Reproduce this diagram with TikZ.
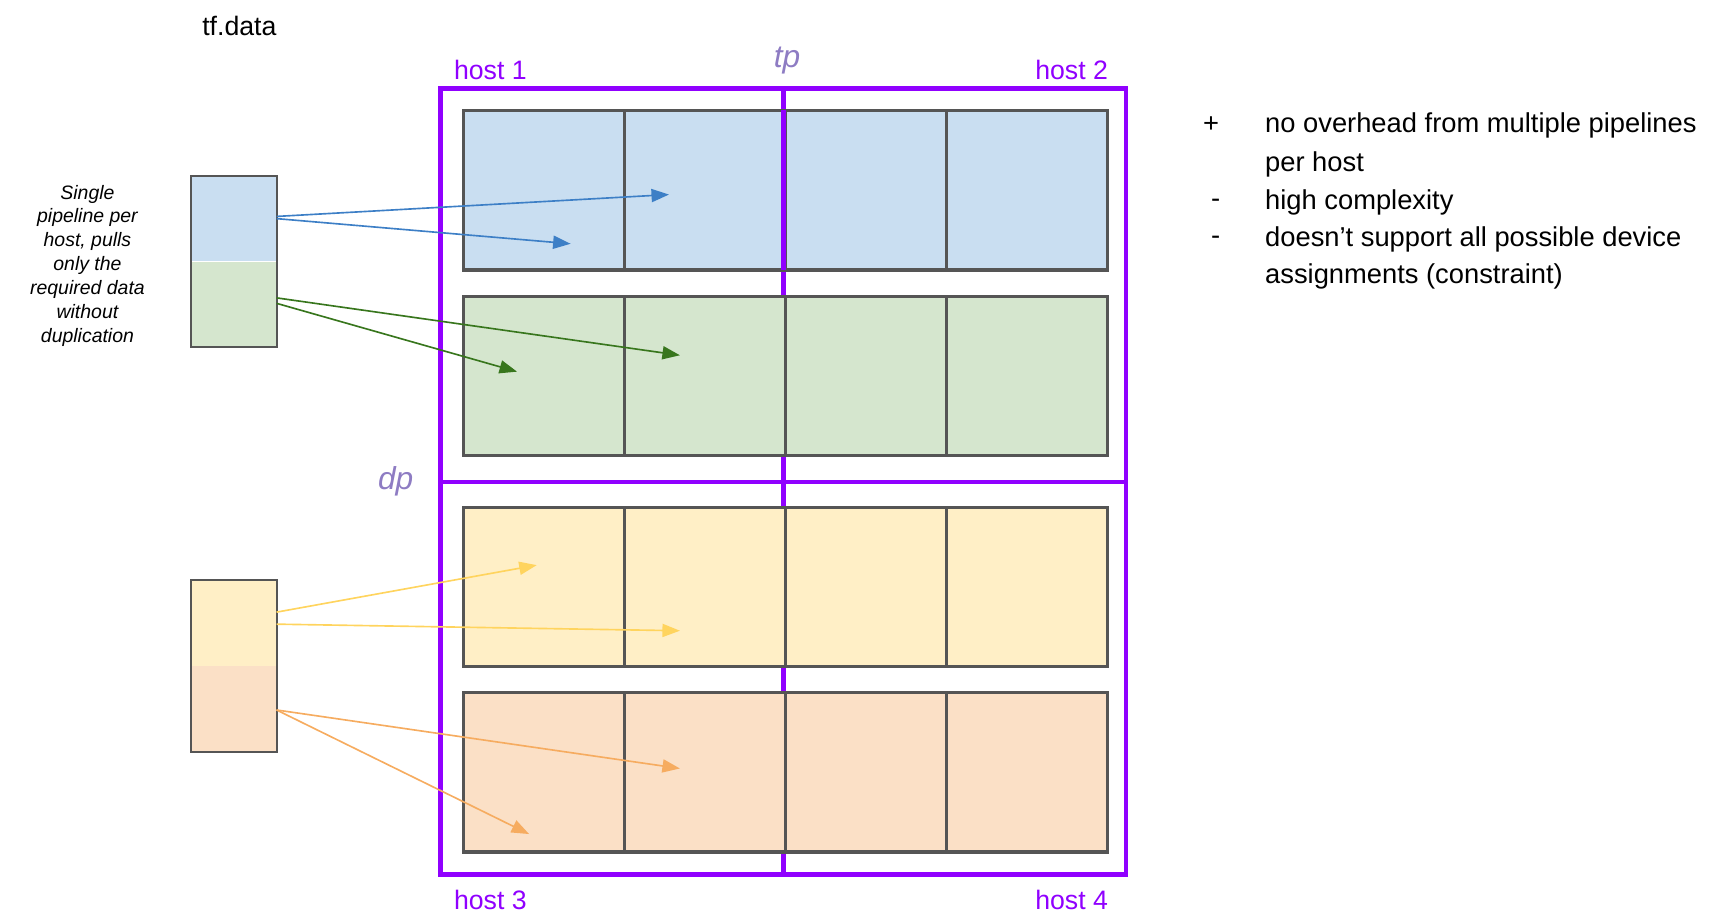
\documentclass[tikz,border=0pt]{standalone}
\usepackage{fontspec}
\setmainfont{Liberation Sans}
\usetikzlibrary{arrows.meta}
\definecolor{cblue}{HTML}{C9DEF1}
\definecolor{cgreen}{HTML}{D5E6CE}
\definecolor{cyellow}{HTML}{FFEFC6}
\definecolor{corange}{HTML}{FBE0C6}
\definecolor{cgrey}{HTML}{555555}
\definecolor{cpurple}{HTML}{9000FF}
\definecolor{clav}{HTML}{8E7CC3}
\definecolor{ablue}{HTML}{3D7FC6}
\definecolor{agreen}{HTML}{38761D}
\definecolor{ayellow}{HTML}{FFD45E}
\definecolor{aorange}{HTML}{F6AC60}
\begin{document}
\begin{tikzpicture}[x=0.5pt,y=-0.5pt,
  cell/.style={draw=cgrey, line width=1.5pt, minimum width=73.6pt, minimum height=73pt, inner sep=0pt, outer sep=0pt},
  half/.style={minimum width=39pt, minimum height=39pt, inner sep=0pt, outer sep=0pt},
  frame/.style={draw=cpurple, line width=2.2pt},
  hostlbl/.style={text=cpurple, font=\fontsize{12.2pt}{14pt}\selectfont, inner sep=0pt},
  axislbl/.style={text=clav, font=\fontsize{14.5pt}{17pt}\selectfont\itshape, inner sep=0pt},
  plain/.style={font=\fontsize{12.2pt}{14pt}\selectfont, inner sep=0pt},
  listtxt/.style={font=\fontsize{12.5pt}{14pt}\selectfont, inner sep=0pt},
  arr/.style={line width=0.75pt, -{Triangle[length=8pt,width=6pt]}}
]
\useasboundingbox (0,0) rectangle (1568,834);

% title
\node[plain] (title) at (219,24) {tf.data};

% description
\node[align=center, inner sep=0pt, font=\fontsize{8.9pt}{10.9pt}\selectfont\itshape] (desc) at (80,243)
  {Single\\pipeline per\\host, pulls\\only the\\required data\\without\\duplication};

% pipeline boxes
\node[half, fill=cblue, anchor=north west] (p1a) at (175,161) {};
\node[half, fill=cgreen, anchor=north west] (p1b) at (175,239.5) {};
\draw[cgrey, line width=0.9pt] (p1a.north west) rectangle (p1b.south east);
\node[half, fill=cyellow, anchor=north west] (p2a) at (175,531) {};
\node[half, fill=corange, anchor=north west] (p2b) at (175,609.5) {};
\draw[cgrey, line width=0.9pt] (p2a.north west) rectangle (p2b.south east);

% purple frame
\draw[frame] (403,81) rectangle (1030,800);
\draw[frame] (403,441) -- (1030,441);
\draw[frame] (717,81) -- (717,800);

% cells
\foreach \r/\y/\col in {1/174/cblue, 2/344/cgreen, 3/537/cyellow, 4/706.5/corange}{
  \foreach \c/\x in {1/497.6, 2/644.9, 3/792.1, 4/939.4}{
    \node[cell, fill=\col] (c\r\c) at (\x,\y) {};
  }
}
\draw[frame] (717,101) -- (717,247);

% labels
\node[hostlbl, anchor=west] (h1) at (415,64) {host 1};
\node[hostlbl, anchor=east] (h2) at (1014,64) {host 2};
\node[hostlbl, anchor=west] (h3) at (415,823) {host 3};
\node[hostlbl, anchor=east] (h4) at (1014,823) {host 4};
\node[axislbl] (tp) at (720,55) {tp};
\node[axislbl] (dp) at (362,440) {dp};

% right list
\node[listtxt] (m1) at (1108,114) {+};
\node[listtxt] (m2) at (1112,186) {-};
\node[listtxt] (m3) at (1112,220) {-};
\node[listtxt, anchor=west] (t1) at (1157,115) {no overhead from multiple pipelines};
\node[listtxt, anchor=west] (t2) at (1157,150) {per host};
\node[listtxt, anchor=west] (t3) at (1157,185) {high complexity};
\node[listtxt, anchor=west] (t4) at (1157,219) {doesn’t support all possible device};
\node[listtxt, anchor=west] (t5) at (1157,253) {assignments (constraint)};

% arrow targets
\coordinate (bt1) at (612,178);
\coordinate (bt2) at (522,223);
\coordinate (gt1) at (622,325);
\coordinate (gt2) at (473,340);
\coordinate (yt1) at (491,517);
\coordinate (yt2) at (622,577);
\coordinate (ot1) at (622,703);
\coordinate (ot2) at (484,763);

\draw[arr, ablue] ([yshift=1pt]p1a.east) -- (bt1);
\draw[arr, ablue] (p1a.east) -- (bt2);
\draw[arr, agreen] ([yshift=3pt]p1b.east) -- (gt1);
\draw[arr, agreen] ([yshift=0.5pt]p1b.east) -- (gt2);
\draw[arr, ayellow] ([yshift=5pt]p2a.east) -- (yt1);
\draw[arr, ayellow] ([yshift=-0.5pt]p2a.east) -- (yt2);
\draw[arr, aorange] ([yshift=-0.5pt]p2b.east) -- (ot1);
\draw[arr, aorange] ([yshift=-0.5pt]p2b.east) -- (ot2);
\end{tikzpicture}
\end{document}
